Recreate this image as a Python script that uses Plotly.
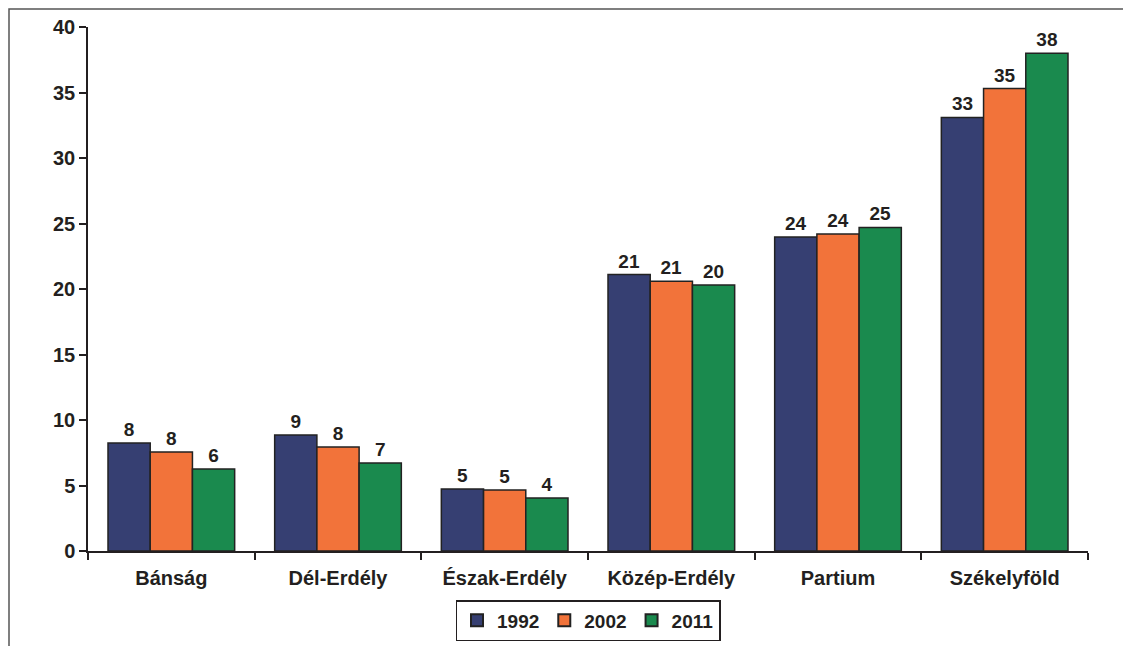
import plotly.graph_objects as go

categories = ["Bánság", "Dél-Erdély", "Észak-Erdély", "Közép-Erdély", "Partium", "Székelyföld"]
v1992 = [8.24, 8.85, 4.73, 21.1, 23.97, 33.1]
v2002 = [7.56, 7.94, 4.66, 20.6, 24.2, 35.3]
v2011 = [6.26, 6.72, 4.05, 20.3, 24.7, 38.0]
series = [("1992", v1992, "#363F72"), ("2002", v2002, "#F2733A"), ("2011", v2011, "#1A8A4E")]
yticks = [0, 5, 10, 15, 20, 25, 30, 35, 40]

FONT = "Liberation Sans, Arial, sans-serif"
fig = go.Figure()
for name, vals, col in series:
    fig.add_trace(go.Bar(
        x=categories, y=vals, name=name,
        marker=dict(color=col, line=dict(color="#222222", width=1.5)),
        texttemplate="%{y:.0f}", textposition="outside", cliponaxis=False,
        textfont=dict(family=FONT, size=19, color="#231F20", weight="bold"),
    ))

W, H = 1115, 638
fig.update_layout(
    width=W, height=H,
    margin=dict(l=80, r=35, t=19, b=95, autoexpand=False),
    barmode="group", bargap=0.24, bargroupgap=0,
    paper_bgcolor="white", plot_bgcolor="white",
    font=dict(family=FONT, size=20, color="#231F20", weight="bold"),
    showlegend=True,
    legend=dict(orientation="h", x=0.5, xanchor="center", yref="container",
                y=(H - 633) / H, yanchor="bottom",
                bordercolor="#231F20", borderwidth=1.5, bgcolor="white",
                font=dict(family=FONT, size=19, color="#231F20", weight="bold"),
                itemsizing="constant", traceorder="normal", itemwidth=30),
    xaxis=dict(showline=True, linecolor="#231F20", linewidth=1.5, ticks="outside",
               tickson="boundaries", ticklen=7, tickcolor="#231F20", tickwidth=1.5,
               ticklabelstandoff=8,
               showgrid=False, tickfont=dict(family=FONT, size=20, weight="bold")),
    yaxis=dict(range=[0, 40], tickvals=yticks, showline=True, linecolor="#231F20", linewidth=1.5,
               ticks="outside", ticklen=7, tickcolor="#231F20", tickwidth=1.5,
               showgrid=False, zeroline=False, tickfont=dict(family=FONT, size=20, weight="bold")),
    shapes=[dict(type="rect", xref="paper", yref="paper", x0=-0.079, x1=1.2, y0=-0.4, y1=1.0344,
                 line=dict(color="#555555", width=1.5), fillcolor="rgba(0,0,0,0)", layer="below")],
)

fig.write_html("out.html")
